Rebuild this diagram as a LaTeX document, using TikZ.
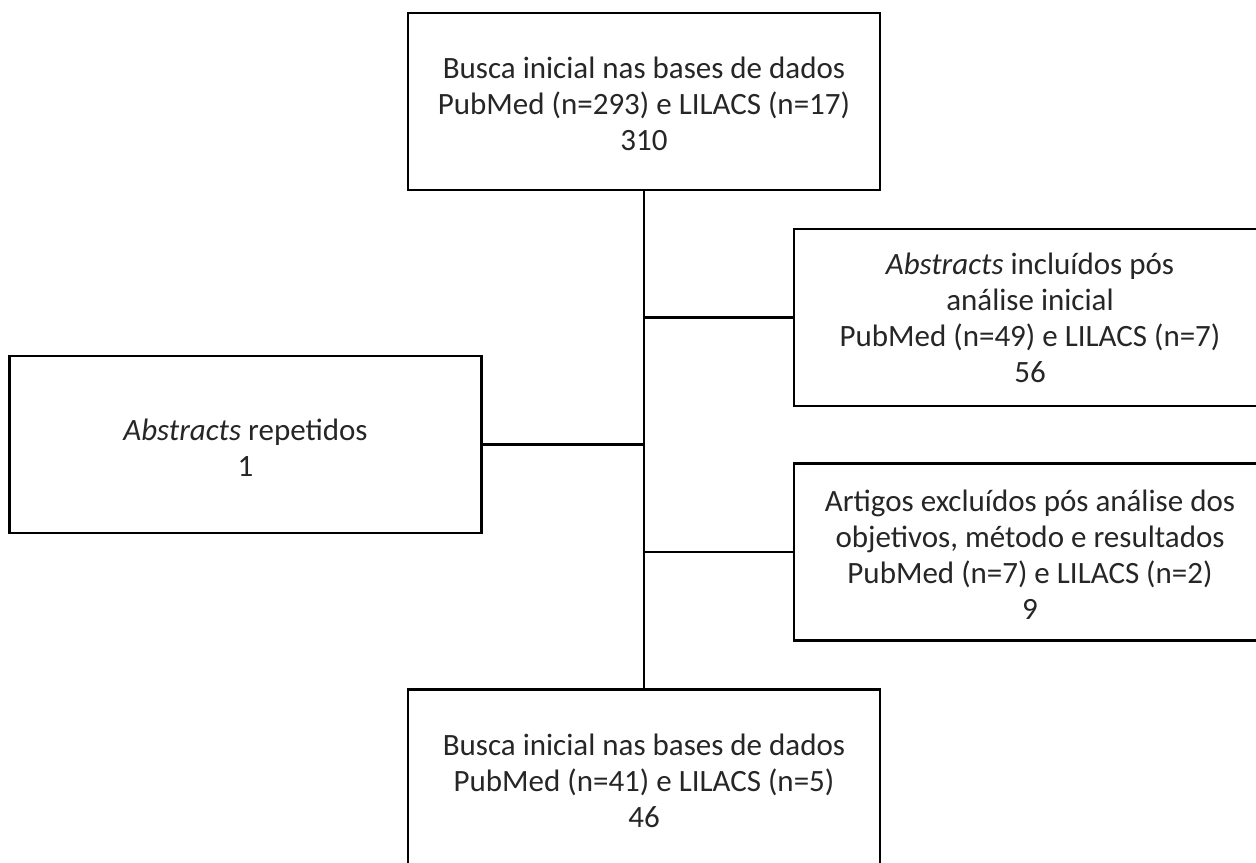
\documentclass[tikz,border=0pt]{standalone}
\usepackage{fontspec}
\setmainfont{Carlito}
\begin{document}
\begin{tikzpicture}[x=0.5pt,y=-0.5pt,
  box/.style={draw=black, line width=1.4pt, fill=white, rectangle,
    minimum width=236pt, minimum height=88.5pt, inner sep=0pt, outer sep=0pt,
    align=center, text=black!85, font=\fontsize{15.5}{18}\selectfont},
  link/.style={draw=black, line width=1.4pt}]
\useasboundingbox (0,0) rectangle (1256,862);
\clip (0,0) rectangle (1256,862);
\node[box] (top) at (644,101.5) {\rule{0pt}{13.5pt}Busca inicial nas bases de dados\\PubMed (n=293) e LILACS (n=17)\\310};
\node[box] (inc) at (1030,317.5) {\textit{Abstracts} incluídos pós\\análise inicial\\PubMed (n=49) e LILACS (n=7)\\56};
\node[box] (rep) at (245.5,444.5) {\rule{0pt}{13.5pt}\textit{Abstracts} repetidos\\1};
\node[box] (exc) at (1030,552) {\rule{0pt}{13.5pt}Artigos excluídos pós análise dos\\objetivos, método e resultados\\PubMed (n=7) e LILACS (n=2)\\9};
\node[box] (fin) at (644,778) {\rule{0pt}{13.5pt}Busca inicial nas bases de dados\\PubMed (n=41) e LILACS (n=5)\\46};
\draw[link] (top.south) -- (fin.north);
\draw[link] (inc.west) -- (inc.west -| top.south);
\draw[link] (rep.east) -- (rep.east -| top.south);
\draw[link] (exc.west) -- (exc.west -| top.south);
\end{tikzpicture}
\end{document}
